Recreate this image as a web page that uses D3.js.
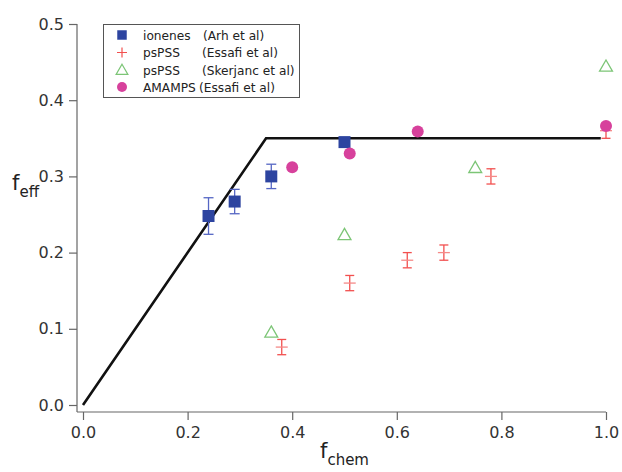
<!DOCTYPE html>
<html><head><meta charset="utf-8">
<script src="https://cdn.jsdelivr.net/npm/d3@7"></script>
<style>body{margin:0;background:#fff}svg{display:block}</style>
</head><body><div id="chart"></div>
<script>
// ---- data ----
const ionenesX = [0.24, 0.29, 0.36, 0.50];
const ionenesY = [0.248, 0.267, 0.300, 0.345];
const ionenesErr = [0.024, 0.016, 0.016, 0];

const essafiX = [0.38, 0.51, 0.62, 0.69, 0.78, 1.0];
const essafiY = [0.076, 0.160, 0.190, 0.200, 0.300, 0.360];
const essafiErr = [0.01, 0.01, 0.01, 0.01, 0.01, 0.01];

const skerjancX = [0.36, 0.50, 0.75, 1.0];
const skerjancY = [0.094, 0.222, 0.310, 0.443];

const amampsX = [0.40, 0.51, 0.64, 1.0];
const amampsY = [0.312, 0.330, 0.359, 0.366];

const modelX = [0, 0.35, 0.99];
const modelY = [0, 0.35, 0.35];

const xTicks = [0, 0.2, 0.4, 0.6, 0.8, 1.0];
const yTicks = [0, 0.1, 0.2, 0.3, 0.4, 0.5];

const legendLabels = ["ionenes", "psPSS", "psPSS", "AMAMPS"];
const legendRefs = ["(Arh et al)", "(Essafi et al)", "(Skerjanc et al)", "(Essafi et al)"];

// ---- chart ----
const W = 622, H = 472;
const FONT = "DejaVu Sans, sans-serif";
const cBlue = "#2d44a0", cBlueErr = "#5566c4", cRed = "#f2504f", cGreen = "#7cc576", cPink = "#d7419c";

const svg = d3.select("#chart").append("svg").attr("width", W).attr("height", H);
const x = d3.scaleLinear().domain([0, 1]).range([83, 606]);
const y = d3.scaleLinear().domain([0, 0.5]).range([405, 24]);
const axLeft = 77, axBottom = 412;

// axes
const gy = svg.append("g").attr("transform", `translate(${axLeft},0)`)
  .call(d3.axisLeft(y).tickValues(yTicks).tickFormat(d3.format(".1f")).tickSize(8).tickPadding(5).tickSizeOuter(0));
const gx = svg.append("g").attr("transform", `translate(0,${axBottom})`)
  .call(d3.axisBottom(x).tickValues(xTicks).tickFormat(d3.format(".1f")).tickSize(8).tickPadding(7).tickSizeOuter(0));
[gy, gx].forEach(g => {
  g.select(".domain").remove();
  g.selectAll(".tick line").attr("stroke", "#666").attr("stroke-width", 1.2);
  g.selectAll(".tick text").attr("fill", "#333").style("font-family", FONT).style("font-size", "16px");
});
svg.append("line").attr("x1", axLeft).attr("x2", axLeft).attr("y1", y(0.5)).attr("y2", axBottom)
  .attr("stroke", "#666").attr("stroke-width", 1.2);
svg.append("line").attr("x1", axLeft).attr("x2", x(1)).attr("y1", axBottom).attr("y2", axBottom)
  .attr("stroke", "#666").attr("stroke-width", 1.2);

// axis titles
const ty = svg.append("text").attr("x", 12).attr("y", 190).attr("fill", "#222").style("font-family", FONT);
ty.append("tspan").style("font-size", "21px").text("f");
ty.append("tspan").style("font-size", "15px").attr("dy", 7).text("eff");
const tx = svg.append("text").attr("x", (x(0) + x(1)) / 2).attr("y", 458).attr("text-anchor", "middle").attr("fill", "#222").style("font-family", FONT);
tx.append("tspan").style("font-size", "21px").text("f");
tx.append("tspan").style("font-size", "15px").attr("dy", 7).text("chem");

// model line
const modelPts = modelX.map((v, i) => [x(v), y(modelY[i])]);
svg.append("path").attr("d", d3.line()(modelPts)).attr("fill", "none").attr("stroke", "#111").attr("stroke-width", 2.6);

// error bar helper
function errBars(xs, ys, es, color, cap) {
  xs.forEach((v, i) => {
    if (!es[i]) return;
    const cx = x(v), y1 = y(ys[i] + es[i]), y2 = y(ys[i] - es[i]);
    const g = svg.append("g").attr("stroke", color).attr("stroke-width", 1.3);
    g.append("line").attr("x1", cx).attr("x2", cx).attr("y1", y1).attr("y2", y2);
    g.append("line").attr("x1", cx - cap / 2).attr("x2", cx + cap / 2).attr("y1", y1).attr("y2", y1);
    g.append("line").attr("x1", cx - cap / 2).attr("x2", cx + cap / 2).attr("y1", y2).attr("y2", y2);
  });
}

// psPSS Essafi (red +)
errBars(essafiX, essafiY, essafiErr, cRed, 9);
essafiX.forEach((v, i) => {
  svg.append("path").attr("transform", `translate(${x(v)},${y(essafiY[i])})`)
    .attr("d", "M-6,0H6").attr("stroke", "#f58a88").attr("stroke-width", 1.3);
});

// ionenes
errBars(ionenesX, ionenesY, ionenesErr, cBlueErr, 10);
ionenesX.forEach((v, i) => {
  svg.append("path").attr("transform", `translate(${x(v)},${y(ionenesY[i])})`)
    .attr("d", d3.symbol(d3.symbolSquare, 144)()).attr("fill", cBlue);
});

// Skerjanc triangles
skerjancX.forEach((v, i) => {
  svg.append("path").attr("transform", `translate(${x(v)},${y(skerjancY[i])})`)
    .attr("d", d3.symbol(d3.symbolTriangle, 72)()).attr("fill", "none").attr("stroke", cGreen).attr("stroke-width", 1.3);
});

// AMAMPS
amampsX.forEach((v, i) => {
  svg.append("circle").attr("cx", x(v)).attr("cy", y(amampsY[i])).attr("r", 6).attr("fill", cPink);
});

// legend
const lg = svg.append("g");
lg.append("rect").attr("x", 103.5).attr("y", 24.5).attr("width", 196).attr("height", 73)
  .attr("fill", "#fff").attr("stroke", "#555").attr("stroke-width", 1);
const rowY = [35, 52.5, 70, 87];
const refX = [203, 202, 202, 199];
const symX = 122;
lg.append("path").attr("transform", `translate(${symX},${rowY[0]})`).attr("d", d3.symbol(d3.symbolSquare, 90)()).attr("fill", cBlue);
lg.append("path").attr("transform", `translate(${symX},${rowY[1]})`).attr("d", "M-5,0H5M0,-5V5").attr("stroke", cRed).attr("stroke-width", 1.2);
lg.append("path").attr("transform", `translate(${symX},${rowY[2] + 1})`).attr("d", d3.symbol(d3.symbolTriangle, 60)()).attr("fill", "none").attr("stroke", cGreen).attr("stroke-width", 1.2);
lg.append("circle").attr("cx", symX).attr("cy", rowY[3]).attr("r", 5).attr("fill", cPink);
legendLabels.forEach((t, i) => {
  lg.append("text").attr("x", 143).attr("y", rowY[i] + 4.5).attr("fill", "#222").style("font-family", FONT).style("font-size", "12.2px").text(t);
  lg.append("text").attr("x", refX[i]).attr("y", rowY[i] + 4.5).attr("fill", "#222").style("font-family", FONT).style("font-size", "12.2px").text(legendRefs[i]);
});
</script></body></html>
